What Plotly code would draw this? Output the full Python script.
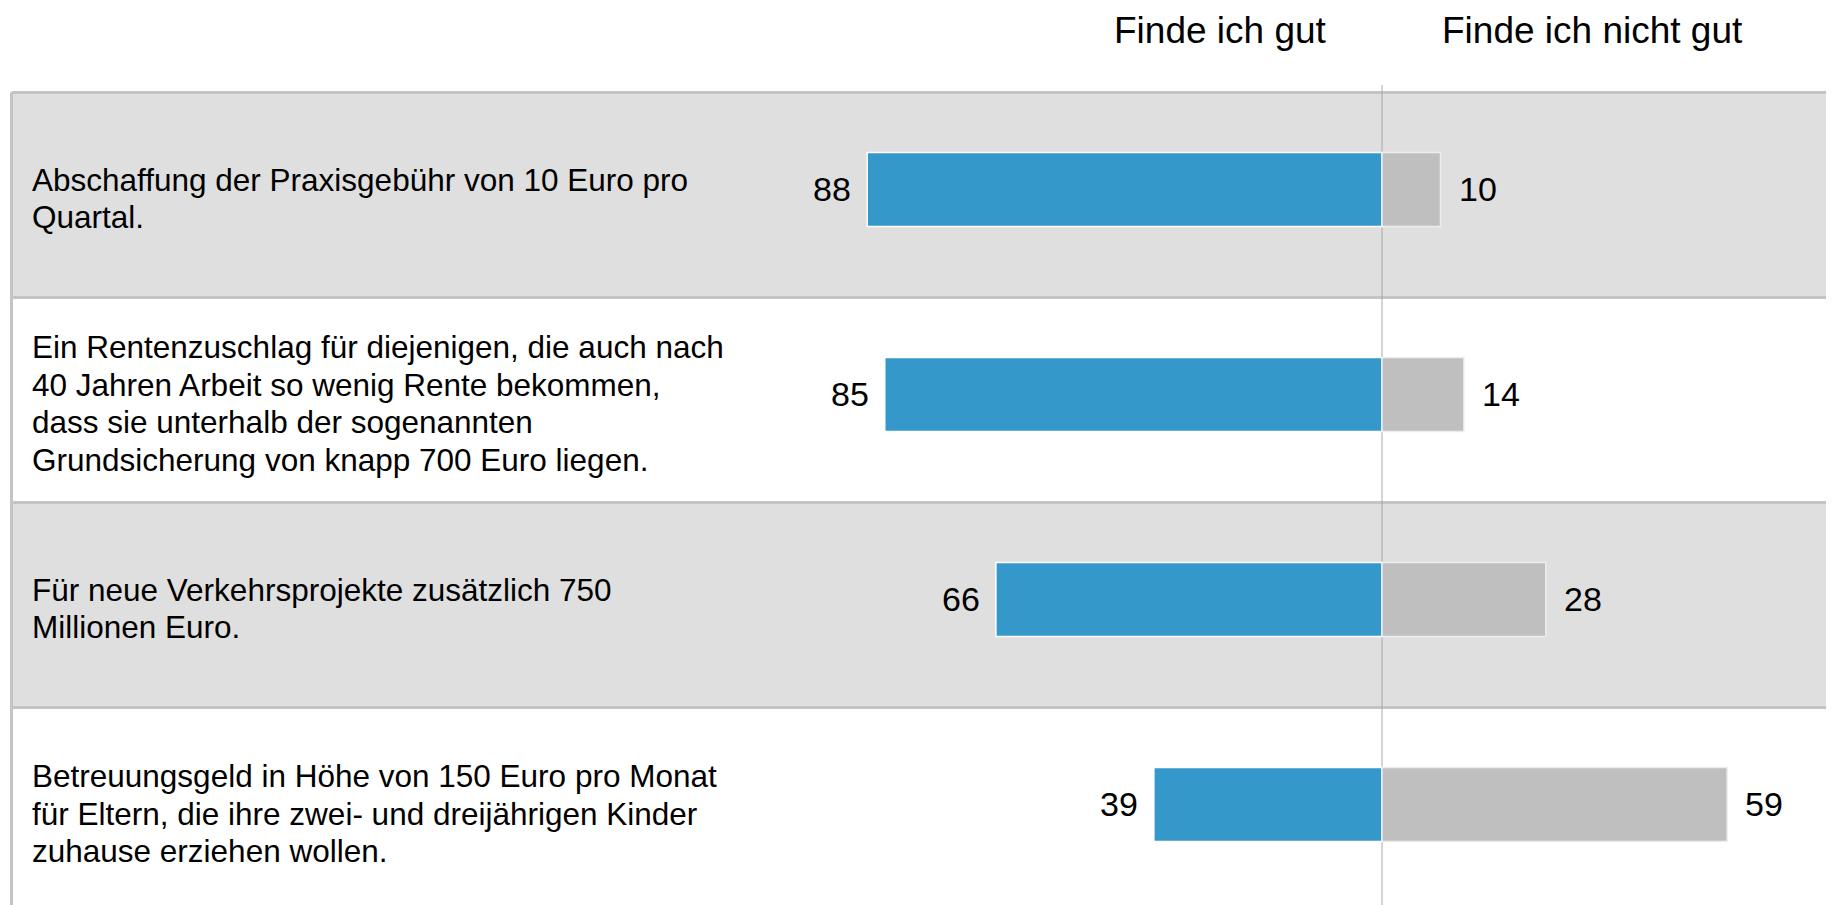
import plotly.graph_objects as go

# ---- data ----
labels = [
    "Abschaffung der Praxisgebühr von 10 Euro pro<br>Quartal.",
    "Ein Rentenzuschlag für diejenigen, die auch nach<br>40 Jahren Arbeit so wenig Rente bekommen,<br>dass sie unterhalb der sogenannten<br>Grundsicherung von knapp 700 Euro liegen.",
    "Für neue Verkehrsprojekte zusätzlich 750<br>Millionen Euro.",
    "Betreuungsgeld in Höhe von 150 Euro pro Monat<br>für Eltern, die ihre zwei- und dreijährigen Kinder<br>zuhause erziehen wollen.",
]
gut = [88, 85, 66, 39]
nicht_gut = [10, 14, 28, 59]
series_names = ["Finde ich gut", "Finde ich nicht gut"]

# ---- style / layout (pixel positions in page coordinates) ----
W, H = 1834, 905
OFF = 8  # page body margin around the plot div
FONT = "Liberation Sans, Arial, sans-serif"
BLUE = "#3498CB"
GREY = "#BFBFBF"
BAND = "#DFDFDF"
SEP = "#C4C4C4"
CENTER = "#A8A8A8"

px_per_unit = 5.85
center_px = 1382 - OFF
unit_px = 205
band0_center_px = 195 - OFF

x_range = [-center_px / px_per_unit, (W - center_px) / px_per_unit]
y_top = -band0_center_px / unit_px
y_range = [y_top + H / unit_px, y_top]

n = len(labels)
idx = list(range(n))
bar_w = 74 / unit_px
bar_shift = -5.6 / unit_px
bar_off = -bar_w / 2 + bar_shift

fig = go.Figure()
fig.add_trace(go.Bar(
    y=idx, x=[-v for v in gut], orientation="h", name=series_names[0],
    marker=dict(color=BLUE, line=dict(color="white", width=1.5)),
    width=bar_w, offset=bar_off, hoverinfo="skip",
))
fig.add_trace(go.Bar(
    y=idx, x=nicht_gut, orientation="h", name=series_names[1],
    marker=dict(color=GREY, line=dict(color="#EDEDED", width=1.5)),
    width=bar_w, offset=bar_off, hoverinfo="skip",
))

shapes = []
left_paper = (11.5 - OFF) / W
for i in idx:
    if i % 2 == 0:
        shapes.append(dict(type="rect", xref="paper", yref="y", x0=left_paper, x1=1,
                           y0=i - 0.5, y1=i + 0.5, fillcolor=BAND, line=dict(width=0),
                           layer="below"))
for i in idx:
    shapes.append(dict(type="line", xref="paper", yref="y", x0=left_paper, x1=1,
                       y0=i - 0.5, y1=i - 0.5, line=dict(color=SEP, width=3), layer="below"))
shapes.append(dict(type="line", xref="paper", yref="y", x0=left_paper, x1=left_paper,
                   y0=-0.5, y1=y_range[0], line=dict(color=SEP, width=3), layer="below"))
shapes.append(dict(type="line", xref="x", yref="paper", x0=0, x1=0,
                   y0=0, y1=1 - (85 - OFF) / H, line=dict(color=CENTER, width=1),
                   layer="below"))

annotations = []
line_h = 37.7
for i, lab in enumerate(labels):
    lines = lab.split("<br>")
    k = len(lines)
    for j, ln in enumerate(lines):
        annotations.append(dict(
            xref="paper", yref="y", x=(32 - OFF - 2) / W, y=i, xanchor="left",
            yanchor="middle", text=ln, showarrow=False, align="left",
            yshift=-(j - (k - 1) / 2) * line_h - 3.5,
            font=dict(family=FONT, size=31.5, color="black"),
        ))
for i, v in enumerate(gut):
    annotations.append(dict(xref="x", yref="y", x=-v, y=i + bar_shift,
                            xanchor="right", yanchor="middle", xshift=-14, text=str(v),
                            showarrow=False, font=dict(family=FONT, size=34, color="black")))
for i, v in enumerate(nicht_gut):
    annotations.append(dict(xref="x", yref="y", x=v, y=i + bar_shift,
                            xanchor="left", yanchor="middle", xshift=16, text=str(v),
                            showarrow=False, font=dict(family=FONT, size=34, color="black")))
annotations.append(dict(xref="paper", yref="paper", x=(1327 - OFF + 2) / W,
                        y=1 - (30.5 - OFF) / H, xanchor="right", yanchor="middle",
                        text=series_names[0], showarrow=False,
                        font=dict(family=FONT, size=37, color="black")))
annotations.append(dict(xref="paper", yref="paper", x=(1442 - OFF - 2) / W,
                        y=1 - (30.5 - OFF) / H, xanchor="left", yanchor="middle",
                        text=series_names[1], showarrow=False,
                        font=dict(family=FONT, size=37, color="black")))

fig.update_layout(
    width=W, height=H, autosize=False,
    margin=dict(l=0, r=0, t=0, b=0, pad=0),
    paper_bgcolor="white", plot_bgcolor="white",
    barmode="overlay", showlegend=False,
    xaxis=dict(range=x_range, visible=False, fixedrange=True),
    yaxis=dict(range=y_range, visible=False, fixedrange=True),
    shapes=shapes, annotations=annotations,
    font=dict(family=FONT),
)

fig.write_html("out.html", config={"displayModeBar": False})
